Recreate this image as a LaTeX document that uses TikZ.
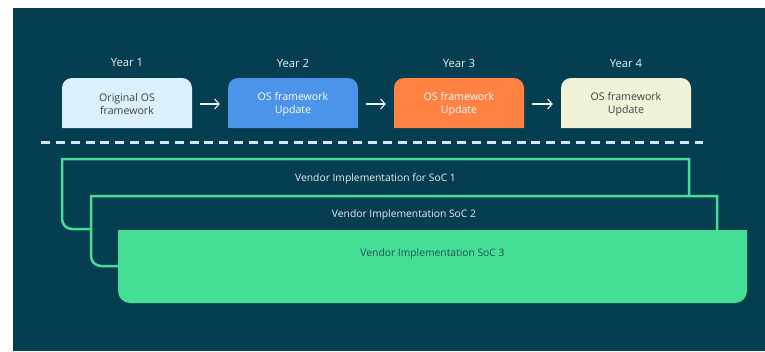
\documentclass[tikz,border=0pt]{standalone}
\usepackage{fontspec}
\setmainfont{Open Sans}
\usetikzlibrary{arrows.meta}
\definecolor{bgc}{HTML}{053D51}
\definecolor{grn}{HTML}{44DE95}
\definecolor{lblue}{HTML}{DCF0FC}
\definecolor{mblue}{HTML}{4C93EA}
\definecolor{orng}{HTML}{FF8242}
\definecolor{crm}{HTML}{F0F3D8}
\definecolor{dashc}{HTML}{D2E8F2}
\definecolor{lightt}{HTML}{E8F0F2}
\definecolor{darkt}{HTML}{3C4043}
\definecolor{vdark}{HTML}{24505A}
\newcommand\topbox[2]{%
  \fill[#2] (#1,128) -- (#1,88) .. controls (#1,82.5) and ({#1+4.5},78) .. ({#1+10},78)
    -- ({#1+120},78) .. controls ({#1+125.5},78) and ({#1+130},82.5) .. ({#1+130},88)
    -- ({#1+130},128) -- cycle;}
\begin{document}
\begin{tikzpicture}[x=1pt,y=-1pt,
  boxtxt/.style={minimum width=130pt,minimum height=50pt,inner sep=0pt,align=center,
    font=\fontsize{10.6}{12.5}\selectfont},
  yeartxt/.style={inner sep=0pt,font=\fontsize{11.3}{12}\selectfont,text=lightt},
  arr/.style={draw=lightt,line width=1.1pt,-{Straight Barb[length=4.5pt,width=10pt,line width=1.1pt]}},
  vend/.style={draw=grn,line width=2.5pt,fill=bgc},
  vtxt/.style={inner sep=0pt,font=\fontsize{10.3}{12}\selectfont}]
\useasboundingbox (0,0) rectangle (765,351);
\fill[bgc] (13,8) rectangle (765,351);
% top boxes
\topbox{62}{lblue}
\topbox{228}{mblue}
\topbox{394}{orng}
\topbox{561}{crm}
\node[boxtxt,text=darkt] (b1) at (127,104) {Original OS\\framework};
\node[boxtxt,text=white] (b2) at (293,104) {OS framework\\Update};
\node[boxtxt,text=white] (b3) at (459,104) {OS framework\\Update};
\node[boxtxt,text=darkt] (b4) at (626,104) {OS framework\\Update};
\node[yeartxt] (y1) at (127,63) {Year 1};
\node[yeartxt] (y2) at (293,63) {Year 2};
\node[yeartxt] (y3) at (459,63) {Year 3};
\node[yeartxt] (y4) at (626,63) {Year 4};
\draw[arr] ([xshift=8pt]b1.east) -- ([xshift=-8pt]b2.west);
\draw[arr] ([xshift=8pt]b2.east) -- ([xshift=-8pt]b3.west);
\draw[arr] ([xshift=8pt]b3.east) -- ([xshift=-8pt]b4.west);
% dashed separator
\coordinate (dl) at (41,142);
\coordinate (dr) at (703,142);
\draw[dashc,line width=3pt,dash pattern=on 9pt off 5.86pt] (dl) -- (dr);
% vendor boxes
\draw[vend] (689,229) -- (689,159) -- (62,159) -- (62,219)
  .. controls (62,224.5) and (66.5,229) .. (72,229) -- cycle;
\draw[vend] (717,266) -- (717,196) -- (91,196) -- (91,256)
  .. controls (91,261.5) and (95.5,266) .. (101,266) -- cycle;
\fill[grn] (118,230) -- (747,230) -- (747,291) .. controls (747,297.6) and (741.6,303) .. (735,303)
  -- (130,303) .. controls (123.4,303) and (118,297.6) .. (118,291) -- cycle;
\node[vtxt,text=lightt] (v1) at (375.5,179) {Vendor Implementation for SoC 1};
\node[vtxt,text=lightt] (v2) at (404,215) {Vendor Implementation SoC 2};
\node[vtxt,text=vdark] (v3) at (432.5,254) {Vendor Implementation SoC 3};
\end{tikzpicture}
\end{document}
